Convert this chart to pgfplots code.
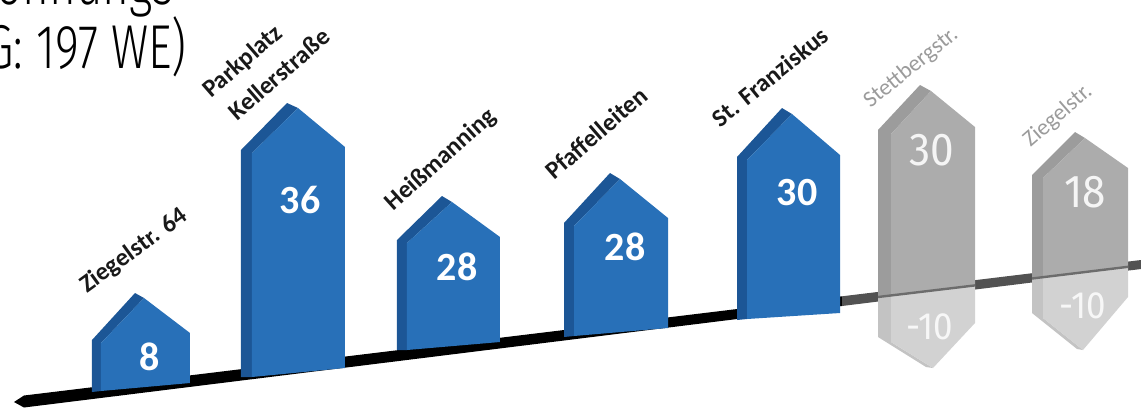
\documentclass[border=0pt]{standalone}
\usepackage{pgfplots}
\pgfplotsset{compat=1.18}
\usepackage{fontspec}
\setmainfont{Carlito}
\newfontfamily\titlefont{Fira Sans Light}[FakeStretch=0.74]
\newfontfamily\dinfont{Fira Sans}[FakeStretch=0.92]
\definecolor{bF}{RGB}{40,112,184}
\definecolor{bS}{RGB}{28,86,150}
\definecolor{gF}{RGB}{172,172,172}
\definecolor{gS}{RGB}{156,156,156}
\definecolor{lF}{RGB}{210,210,210}
\definecolor{lS}{RGB}{195,195,195}
\definecolor{band2}{RGB}{82,82,82}
\definecolor{glab}{RGB}{155,155,155}
\begin{document}
\begin{tikzpicture}
\begin{axis}[at={(0,0)},anchor=south west,scale only axis,
  width=570.5pt,height=204.5pt,xmin=0,xmax=1141,ymin=0,ymax=409,
  y dir=reverse,hide axis,clip=false]
% ground band
\addplot[fill=black,draw=none] coordinates {(14,402) (24,395.5) (842,296.3) (842,306) (24,407.5)};
\addplot[fill=band2,draw=none] coordinates {(842,296.3) (1141,260) (1141,269) (842,306)};
% House 1 : Ziegelstr. 64 (8)
\addplot[fill=bS,draw=none] coordinates {(92,392) (92,340) (135,293) (144,298) (101,343) (101,391)};
\addplot[fill=bF,draw=none] coordinates {(101,391) (101,343) (144,298) (190,333) (190,383)};
% House 2 : Parkplatz Kellerstrasse (36)
\addplot[fill=bS,draw=none] coordinates {(241,377) (241,150) (287,103) (298,108) (252,153) (252,377)};
\addplot[fill=bF,draw=none] coordinates {(252,377) (252,153) (298,108) (345,147) (345,368)};
% House 3 : Heissmanning (28)
\addplot[fill=bS,draw=none] coordinates {(397,350) (397,240) (442,196) (452,202) (407,243) (407,350)};
\addplot[fill=bF,draw=none] coordinates {(407,350) (407,243) (452,202) (500,237) (500,342)};
% House 4 : Pfaffelleiten (28)
\addplot[fill=bS,draw=none] coordinates {(564,337) (564,223) (610,173) (620,179) (574,226) (574,336)};
\addplot[fill=bF,draw=none] coordinates {(574,336) (574,226) (620,179) (668,218) (668,328)};
% House 5 : St. Franziskus (30)
\addplot[fill=bS,draw=none] coordinates {(737,320) (737,157) (782,108) (792,114) (747,160) (747,319)};
\addplot[fill=bF,draw=none] coordinates {(747,319) (747,160) (792,114) (840,155) (840,313)};
% House 6 : Stettbergstr. (30 / -10)
\addplot[fill=lS,draw=none] coordinates {(878,297) (878,337) (926,367) (933,368) (891,342) (891,295.6)};
\addplot[fill=lF,draw=none] coordinates {(891,295.6) (891,342) (933,368) (975,323) (975,285.4)};
\addplot[fill=gS,draw=none] coordinates {(878,297) (878,130) (920,85) (931,91) (891,134) (891,295.6)};
\addplot[fill=gF,draw=none] coordinates {(891,295.6) (891,134) (931,91) (975,127) (975,285.4)};
\addplot[draw=band2!85,line width=1.2pt] coordinates {(878,297) (975,285.4)};
% House 7 : Ziegelstr. (18 / -10)
\addplot[fill=lS,draw=none] coordinates {(1032,278.5) (1032,313) (1077,349) (1083,350) (1043,318) (1043,277.1)};
\addplot[fill=lF,draw=none] coordinates {(1043,277.1) (1043,318) (1083,350) (1128,297) (1128,266.8)};
\addplot[fill=gS,draw=none] coordinates {(1032,278.5) (1032,175) (1075,132) (1085,138) (1043,178) (1043,277.1)};
\addplot[fill=gF,draw=none] coordinates {(1043,277.1) (1043,178) (1085,138) (1128,168) (1128,266.8)};
\addplot[draw=band2!85,line width=1.2pt] coordinates {(1032,278.5) (1128,266.8)};
% values
\begin{scope}[every node/.style={text=white,font=\bfseries\fontsize{20pt}{22pt}\selectfont}]
\node at (axis cs:150,357) {8};
\node at (axis cs:300,200) {36};
\node at (axis cs:457,267) {28};
\node at (axis cs:625,247) {28};
\node at (axis cs:797,193) {30};
\end{scope}
\node[text=white!96!black,font=\dinfont\fontsize{23pt}{25pt}\selectfont] at (axis cs:932,150) {30};
\node[text=white!96!black,font=\dinfont\fontsize{23pt}{25pt}\selectfont] at (axis cs:1085,192) {18};
\node[text=white!97!black,font=\dinfont\fontsize{19pt}{21pt}\selectfont] at (axis cs:930,327) {-10};
\node[text=white!97!black,font=\dinfont\fontsize{19pt}{21pt}\selectfont] at (axis cs:1083,306) {-10};
% labels
\begin{scope}[every node/.style={text=black!90,font=\bfseries\fontsize{12.5pt}{14pt}\selectfont}]
\node[rotate=36] at (axis cs:134,251) {Ziegelstr. 64};
\node[rotate=41] at (axis cs:243,62) {Parkplatz};
\node[rotate=41] at (axis cs:279,74) {Kellerstraße};
\node[rotate=42] at (axis cs:441,160) {Heißmanning};
\node[rotate=41] at (axis cs:596,133) {Pfaffelleiten};
\node[rotate=39] at (axis cs:770,77) {St. Franziskus};
\end{scope}
\node[rotate=39,text=glab,font=\fontsize{11.5pt}{13pt}\selectfont] at (axis cs:911,68) {Stettbergstr.};
\node[rotate=41,text=glab,font=\fontsize{11.5pt}{13pt}\selectfont] at (axis cs:1058,116) {Ziegelstr.};
% title fragment
\node[anchor=base east,inner sep=0pt,font=\titlefont\fontsize{31pt}{34pt}\selectfont] at (axis cs:174,4) {Wohnungs};
\node[anchor=base east,inner sep=0pt,font=\titlefont\fontsize{31pt}{34pt}\selectfont] at (axis cs:187,68) {(GESAMT PLANUNG: 197 WE)};
\end{axis}
\pgfresetboundingbox
\path[use as bounding box] (current axis.south west) rectangle (current axis.north east);
\end{tikzpicture}
\end{document}
